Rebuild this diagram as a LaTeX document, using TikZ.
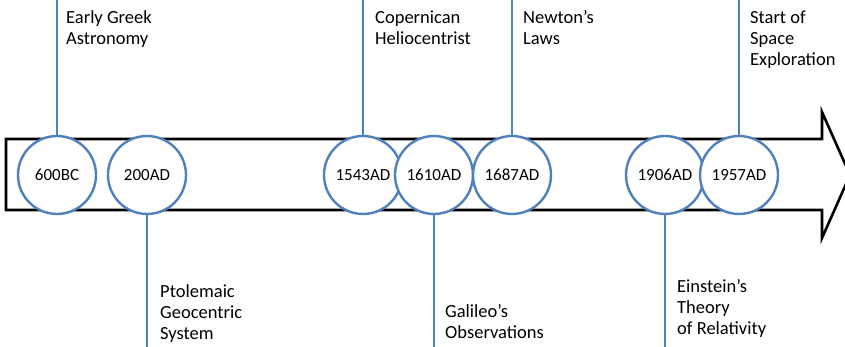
\documentclass[tikz,border=0pt]{standalone}
\usepackage{fontspec}
\setmainfont{Carlito}
\begin{document}
\begin{tikzpicture}[x=1pt,y=-1pt,
  band/.style={draw=black,line width=2.6pt,fill=white,line join=miter},
  yearcirc/.style={circle,draw=tlblue,line width=2.4pt,fill=white,minimum size=78pt,inner sep=0pt,font=\fontsize{17}{20}\selectfont},
  stem/.style={draw=tlblue,line width=2.4pt},
  label/.style={align=left,anchor=base west,inner sep=0pt,font=\fontsize{18.5}{21}\selectfont}]
\definecolor{tlblue}{RGB}{79,129,189}
\useasboundingbox (0,0) rectangle (845,347);
\begin{scope}
\clip (0,0) rectangle (845,347);
% timeline arrow
\path[band] (6,139) -- (822,139) -- (822,112) -- (850,175) -- (822,238) -- (822,210) -- (6,210) -- cycle;
\end{scope}
% year circles
\node[yearcirc] (c600) at (57,175) {600BC};
\node[yearcirc] (c200) at (147,175) {200AD};
\node[yearcirc] (c1543) at (363,175) {1543AD};
\node[yearcirc] (c1610) at (434,175) {1610AD};
\node[yearcirc] (c1687) at (512,175) {1687AD};
\node[yearcirc] (c1906) at (665,175) {1906AD};
\node[yearcirc] (c1957) at (739,175) {1957AD};
% stems
\coordinate (t600) at (57,0);
\coordinate (t1543) at (363,0);
\coordinate (t1687) at (512,0);
\coordinate (t1957) at (739,0);
\coordinate (b200) at (147,347);
\coordinate (b1610) at (434,347);
\coordinate (b1906) at (665,347);
\draw[stem] (c600.north) -- (t600);
\draw[stem] (c1543.north) -- (t1543);
\draw[stem] (c1687.north) -- (t1687);
\draw[stem] (c1957.north) -- (t1957);
\draw[stem] (c200.south) -- (b200);
\draw[stem] (c1610.south) -- (b1610);
\draw[stem] (c1906.south) -- (b1906);
% event labels (anchored at the baseline of the last line)
\node[label] (l600) at (66,45) {Early Greek\\Astronomy};
\node[label] (l1543) at (375,45) {Copernican\\Heliocentrist};
\node[label] (l1687) at (523,45) {Newton’s\\Laws};
\node[label] (l1957) at (750,66) {Start of\\Space\\Exploration};
\node[label] (l200) at (160,339) {Ptolemaic\\Geocentric\\System};
\node[label] (l1610) at (445,338) {Galileo’s\\Observations};
\node[label] (l1906) at (677,334) {Einstein’s\\Theory\\of Relativity};
\end{tikzpicture}
\end{document}
